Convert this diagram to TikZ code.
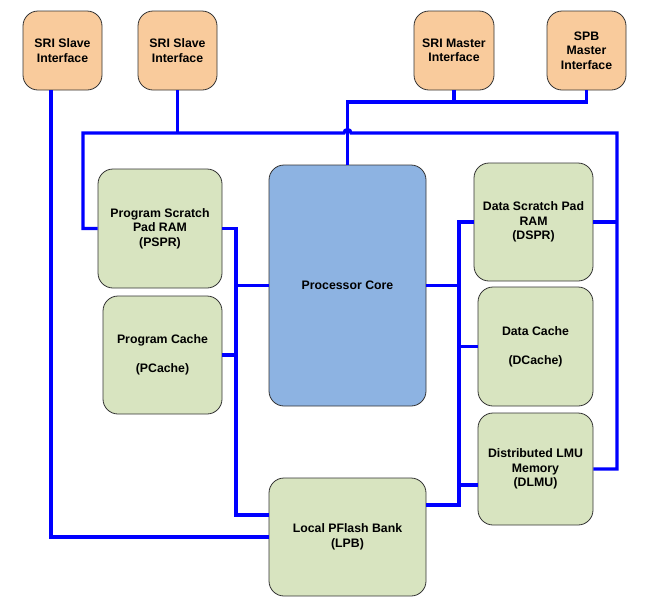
\documentclass[tikz,border=0pt]{standalone}
\usepackage{fontspec}
\setmainfont{Liberation Sans}
\definecolor{orangebox}{HTML}{F9CB9C}
\definecolor{greenbox}{HTML}{D8E4C0}
\definecolor{bluebox}{HTML}{8DB3E2}
\definecolor{bus}{HTML}{0000FF}
\definecolor{edge}{HTML}{333333}
\begin{document}
\begin{tikzpicture}[x=1pt,y=-1pt,
  box/.style={draw=edge, line width=0.8pt, rounded corners=15pt, align=center,
    inner sep=0pt, font=\fontsize{12.3}{14.5}\selectfont\bfseries},
  ifbox/.style={box, fill=orangebox},
  membox/.style={box, fill=greenbox},
  corebox/.style={box, fill=bluebox},
  wire/.style={draw=bus, line width=3.2pt}]
\useasboundingbox (0,0) rectangle (647,611);
% top interfaces
\node[ifbox, minimum width=79pt, minimum height=79pt] (s1) at (62.5,50.5) {SRI Slave\\Interface};
\node[ifbox, minimum width=79pt, minimum height=79pt] (s2) at (177.5,50.5) {SRI Slave\\Interface};
\node[ifbox, minimum width=80pt, minimum height=79pt] (m1) at (454,50.5) {SRI Master\\Interface};
\node[ifbox, minimum width=79pt, minimum height=79pt] (m2) at (586.5,50.5) {SPB\\Master\\Interface};
% memories
\node[membox, minimum width=124pt, minimum height=119pt] (pspr) at (160,228.5) {Program Scratch\\Pad RAM\\(PSPR)};
\node[membox, minimum width=119pt, minimum height=118pt] (pc) at (162.5,355) {Program Cache\\[14.5pt](PCache)};
\node[corebox, minimum width=157pt, minimum height=241pt] (core) at (347.5,285.5) {Processor Core};
\node[membox, minimum width=119pt, minimum height=118pt] (dspr) at (533.5,222) {Data Scratch Pad\\RAM\\(DSPR)};
\node[membox, minimum width=115pt, minimum height=119pt] (dc) at (535.5,346.5) {Data Cache\\[14.5pt](DCache)};
\node[membox, minimum width=115pt, minimum height=112pt] (dlmu) at (535.5,469) {Distributed LMU\\Memory\\(DLMU)};
\node[membox, minimum width=157pt, minimum height=118pt] (lpb) at (347.5,537) {Local PFlash Bank\\(LPB)};
% helper coordinates
\coordinate (bl) at (83,133);
\coordinate (br) at (617,133);
\coordinate (mb) at (347.5,102);
\coordinate (lbus) at (236,0);
\coordinate (rbus) at (459,0);
\coordinate (lpbL) at (269,515);
\coordinate (lpbR) at (426,505);
\coordinate (dlmuL) at (478,485);
% connectors
\draw[wire] ([xshift=-11.5pt]s1.south) |- (lpb.west);
\draw[wire] (s2.south) -- (s2.south |- bl);
\draw[wire] (pspr.west) -| (bl) -- (344,133) .. controls (344,128.5) and (351,128.5) .. (351,133) -- (br) |- (dlmu.east);
\draw[wire] (dspr.east) -- (dspr.east -| br);
\draw[wire] (m2.south) |- (mb) -- (core.north);
\draw[wire] (m1.south) -- (m1.south |- mb);
\draw[wire] (pspr.east) -- (pspr.east -| lbus) -- (lbus |- lpbL) -- (lpbL);
\draw[wire] (pc.east) -- (pc.east -| lbus);
\draw[wire] (core.west) -- (core.west -| lbus);
\draw[wire] (dspr.west) -- (dspr.west -| rbus) -- (rbus |- dlmuL) -- (dlmuL);
\draw[wire] (core.east) -- (core.east -| rbus);
\draw[wire] (dc.west) -- (dc.west -| rbus);
\draw[wire] (lpbR) -- (lpbR -| rbus) -- (rbus |- dlmuL);
\end{tikzpicture}
\end{document}
